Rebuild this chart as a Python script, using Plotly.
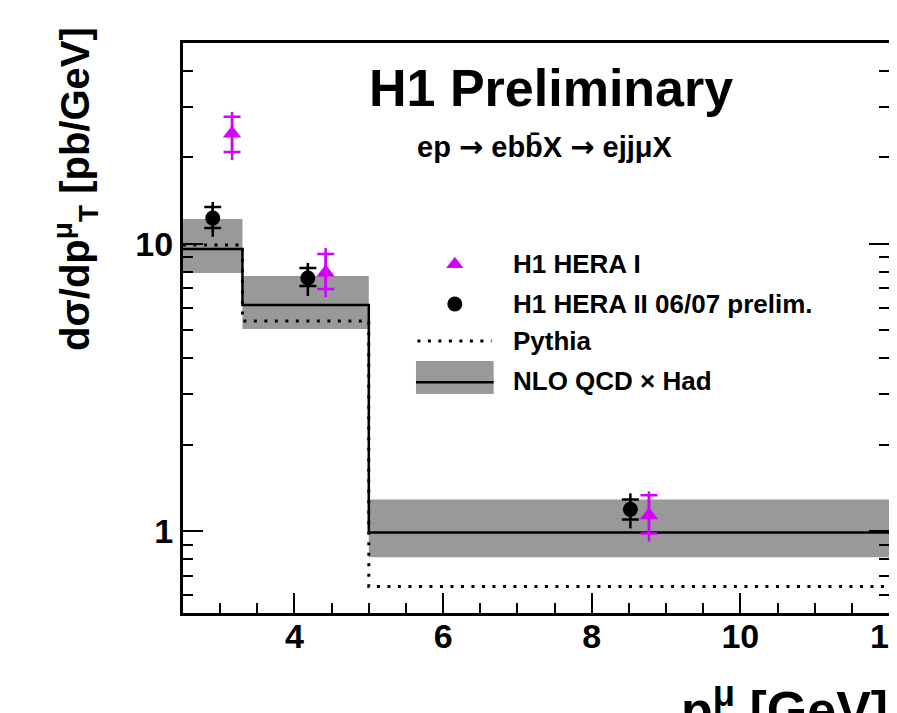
import plotly.graph_objects as go

# ---------------- data ----------------
bin_edges = [2.5, 3.3, 5.0, 12.0]
nlo_central = [9.61, 6.13, 0.99]
nlo_upper = [12.2, 7.74, 1.29]
nlo_lower = [7.92, 5.06, 0.812]
pythia = [9.92, 5.39, 0.643]

hera2_x = [2.90, 4.18, 8.52]
hera2_y = [12.3, 7.61, 1.193]
hera2_stat_up = [13.45, 8.25, 1.29]
hera2_stat_dn = [11.37, 7.14, 1.10]
hera2_tot_up = [14.0, 8.59, 1.356]
hera2_tot_dn = [10.58, 6.59, 1.024]

hera1_x = [3.16, 4.42, 8.77]
hera1_y = [24.2, 7.96, 1.137]
hera1_stat_up = [27.7, 9.23, 1.335]
hera1_stat_dn = [20.9, 6.97, 0.984]
hera1_tot_up = [28.8, 9.68, 1.378]
hera1_tot_dn = [19.6, 6.53, 0.923]

x_ticks = [4, 6, 8, 10, 12]
y_ticks = [1, 10]
y_ticklabels = ["1", "10"]

# --------------------------------------
MAG = "#d400ff"
GRAY = "#999999"
FONT = "Liberation Sans, Arial, sans-serif"

def step(vals):
    return vals + [vals[-1]]

fig = go.Figure()

# NLO band
fig.add_trace(go.Scatter(x=bin_edges, y=step(nlo_lower), mode="lines", line_shape="hv",
                         line=dict(width=0, color=GRAY), showlegend=False, hoverinfo="skip"))
fig.add_trace(go.Scatter(x=bin_edges, y=step(nlo_upper), mode="lines", line_shape="hv",
                         line=dict(width=0, color=GRAY), fill="tonexty", fillcolor=GRAY,
                         showlegend=False, hoverinfo="skip"))
# NLO central
fig.add_trace(go.Scatter(x=bin_edges, y=step(nlo_central), mode="lines", line_shape="hv",
                         line=dict(width=2.5, color="black"), showlegend=False, hoverinfo="skip"))
# Pythia
fig.add_trace(go.Scatter(x=bin_edges, y=step(pythia), mode="lines", line_shape="hv",
                         line=dict(width=3, color="black", dash="3px,7.5px"), showlegend=False,
                         hoverinfo="skip"))

def add_points(xs, ys, su, sd, tu, td, color, symbol, size):
    tot_plus = [a - b for a, b in zip(tu, ys)]
    tot_minus = [b - a for a, b in zip(td, ys)]
    st_plus = [a - b for a, b in zip(su, ys)]
    st_minus = [b - a for a, b in zip(sd, ys)]
    fig.add_trace(go.Scatter(x=xs, y=ys, mode="markers", marker=dict(size=0.1, color=color, opacity=0),
                             error_y=dict(type="data", array=tot_plus, arrayminus=tot_minus,
                                          color=color, thickness=2.5, width=0),
                             showlegend=False, hoverinfo="skip"))
    fig.add_trace(go.Scatter(x=xs, y=ys, mode="markers",
                             marker=dict(size=size, color=color, symbol=symbol, line=dict(width=0)),
                             error_y=dict(type="data", array=st_plus, arrayminus=st_minus,
                                          color=color, thickness=2.5, width=8.5),
                             showlegend=False, hoverinfo="skip"))

add_points(hera2_x, hera2_y, hera2_stat_up, hera2_stat_dn, hera2_tot_up, hera2_tot_dn,
           "black", "circle", 15)
add_points(hera1_x, hera1_y, hera1_stat_up, hera1_stat_dn, hera1_tot_up, hera1_tot_dn,
           MAG, "triangle-up", 16)

# legend glyphs on a hidden overlay axis spanning the plot area [0,1]
fig.add_trace(go.Scatter(x=[0.385], y=[0.612], mode="markers", xaxis="x2", yaxis="y2",
                         marker=dict(size=15, color=MAG, symbol="triangle-up"),
                         showlegend=False, hoverinfo="skip"))
fig.add_trace(go.Scatter(x=[0.385], y=[0.542], mode="markers", xaxis="x2", yaxis="y2",
                         marker=dict(size=15, color="black", symbol="circle"),
                         showlegend=False, hoverinfo="skip"))
fig.add_trace(go.Scatter(x=[0.332, 0.437], y=[0.477, 0.477], mode="lines", xaxis="x2", yaxis="y2",
                         line=dict(width=3, color="black", dash="3px,7.5px"),
                         showlegend=False, hoverinfo="skip"))

shapes = [
    dict(type="rect", xref="paper", yref="paper", x0=0.330, x1=0.440, y0=0.384, y1=0.442,
         fillcolor=GRAY, line=dict(width=0), layer="above"),
    dict(type="line", xref="paper", yref="paper", x0=0.330, x1=0.440, y0=0.405, y1=0.405,
         line=dict(width=2.5, color="black"), layer="above"),
]

ARROW = '<span style="font-family:DejaVu Sans">→</span>'

annotations = [
    dict(text="<b>H1 Preliminary</b>", x=0.521, y=0.921, xref="paper", yref="paper",
         showarrow=False, xanchor="center", yanchor="middle",
         font=dict(family=FONT, size=52, color="black")),
    dict(text="<b>ep " + ARROW + " ebb\u0304X " + ARROW + " ejjμX</b>", x=0.513, y=0.8175,
         xref="paper", yref="paper",
         showarrow=False, xanchor="center", yanchor="middle",
         font=dict(family=FONT, size=29, color="black")),
    dict(text="<b>H1 HERA I</b>", x=0.4646, y=0.612, xref="paper", yref="paper",
         showarrow=False, xanchor="left", yanchor="middle",
         font=dict(family=FONT, size=26, color="black")),
    dict(text="<b>H1 HERA II 06/07 prelim.</b>", x=0.4646, y=0.542, xref="paper", yref="paper",
         showarrow=False, xanchor="left", yanchor="middle",
         font=dict(family=FONT, size=26, color="black")),
    dict(text="<b>Pythia</b>", x=0.4646, y=0.477, xref="paper", yref="paper",
         showarrow=False, xanchor="left", yanchor="middle",
         font=dict(family=FONT, size=26, color="black")),
    dict(text="<b>NLO QCD × Had</b>", x=0.4646, y=0.407, xref="paper", yref="paper",
         showarrow=False, xanchor="left", yanchor="middle",
         font=dict(family=FONT, size=26, color="black")),
    dict(text="<b>dσ/dp<sup>μ</sup><sub>T</sub> [pb/GeV]</b>", x=-0.152, y=1.031,
         xref="paper", yref="paper", showarrow=False, textangle=-90,
         xanchor="center", yanchor="top",
         font=dict(family=FONT, size=40, color="black")),
    dict(text="<b>p<sup>μ</sup> [GeV]</b>", x=1.0014, y=-0.102, xref="paper", yref="paper",
         showarrow=False, xanchor="right", yanchor="top",
         font=dict(family=FONT, size=52, color="black")),
]

minor_x = [v / 2 for v in range(5, 25)]
minor_y = [0.6, 0.7, 0.8, 0.9, 2, 3, 4, 5, 6, 7, 8, 9, 20, 30, 40, 50]

# the page body adds an 8px offset, so the figure is sized/margined to compensate
fig.update_layout(
    width=889, height=705,
    margin=dict(l=175, r=8, t=35, b=100, autoexpand=False),
    paper_bgcolor="white", plot_bgcolor="white",
    showlegend=False,
    shapes=shapes, annotations=annotations,
    xaxis=dict(range=[2.5, 12], tickmode="array", tickvals=x_ticks, automargin=False,
               ticklabeloverflow="allow", ticklabelstandoff=-9,
               ticks="inside", ticklen=20, tickwidth=2, tickcolor="black",
               showline=True, linewidth=3, linecolor="black", mirror=True,
               showgrid=False, zeroline=False,
               tickfont=dict(family=FONT, size=34, color="black", weight="bold"),
               minor=dict(tickmode="array", tickvals=minor_x, ticks="inside", ticklen=10,
                          tickwidth=2, tickcolor="black", showgrid=False)),
    yaxis=dict(type="log", range=[-0.284, 1.699], tickmode="array", tickvals=y_ticks,
               ticktext=y_ticklabels, automargin=False,
               ticks="inside", ticklen=20, tickwidth=2, tickcolor="black",
               showline=True, linewidth=3, linecolor="black", mirror="ticks",
               showgrid=False, zeroline=False,
               tickfont=dict(family=FONT, size=34, color="black", weight="bold"),
               minor=dict(tickmode="array", tickvals=minor_y, ticks="inside", ticklen=10,
                          tickwidth=2, tickcolor="black", showgrid=False)),
    xaxis2=dict(range=[0, 1], overlaying="x", visible=False, fixedrange=True),
    yaxis2=dict(range=[0, 1], overlaying="y", visible=False, fixedrange=True),
)

fig.write_html("out.html", config={"displayModeBar": False})
